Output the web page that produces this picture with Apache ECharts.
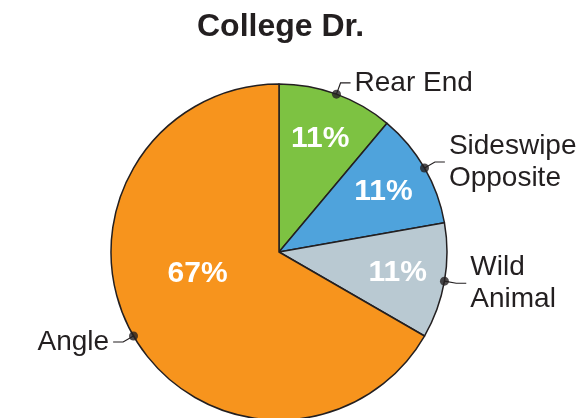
<!DOCTYPE html>
<html><head><meta charset="utf-8">
<script src="https://cdn.jsdelivr.net/npm/echarts@6/dist/echarts.min.js"></script>
<style>html,body{margin:0;padding:0;background:#fff}#c{width:583px;height:418px}</style>
</head><body><div id="c"></div>
<script>
const title = 'College Dr.';
const categories = ['Rear End', 'Sideswipe\nOpposite', 'Wild\nAnimal', 'Angle'];
const values = [1, 1, 1, 6];
const colors = ['#7dc242', '#4fa3dc', '#b9c9d2', '#f7941d'];

const total = values.reduce((a, b) => a + b, 0);
const mids = [];
let acc = 0;
values.forEach(v => { mids.push(acc + v / 2); acc += v; });

const CENTER = [279, 252];
const R = 168;
const FONT = 'Liberation Sans, Arial, sans-serif';
const INK = '#231f20';

const chart = echarts.init(document.getElementById('c'));
chart.setOption({
  animation: false,
  title: {
    text: title, left: 192, top: 6,
    textStyle: { fontFamily: FONT, fontSize: 32, fontWeight: 'bold', color: INK }
  },
  polar: { center: CENTER, radius: R },
  angleAxis: { type: 'value', min: 0, max: total, startAngle: 90, clockwise: true, show: false },
  radiusAxis: { type: 'value', min: 0, max: 1, show: false },
  series: [
    {
      type: 'pie', center: CENTER, radius: R, startAngle: 90, clockwise: true,
      avoidLabelOverlap: false,
      itemStyle: { borderColor: INK, borderWidth: 1.5 },
      label: {
        show: true, position: 'outside', color: INK, fontFamily: FONT, fontSize: 28,
        lineHeight: 32, formatter: p => p.name, distanceToLabelLine: 4
      },
      labelLine: { show: true, smooth: false, length: 12, length2: 10, lineStyle: { color: INK, width: 1.2 } },
      data: categories.map((c, i) => ({ name: c, value: values[i], itemStyle: { color: colors[i] } }))
    },
    {
      type: 'pie', center: CENTER, radius: R * 1.4, startAngle: 90, clockwise: true, silent: true,
      avoidLabelOverlap: false,
      itemStyle: { color: 'rgba(0,0,0,0)' },
      label: {
        show: true, position: 'inside', color: '#fff', fontFamily: FONT, fontSize: 30, fontWeight: 'bold',
        formatter: p => Math.round(p.percent) + '%'
      },
      labelLine: { show: false },
      data: categories.map((c, i) => ({
        name: c, value: values[i],
        label: i === 3 ? { offset: [23, -39] } : {}
      }))
    },
    {
      type: 'scatter', coordinateSystem: 'polar', symbolSize: 9, silent: true,
      itemStyle: { color: INK },
      data: mids.map(m => [1, m]), z: 10
    }
  ]
});
</script></body></html>
